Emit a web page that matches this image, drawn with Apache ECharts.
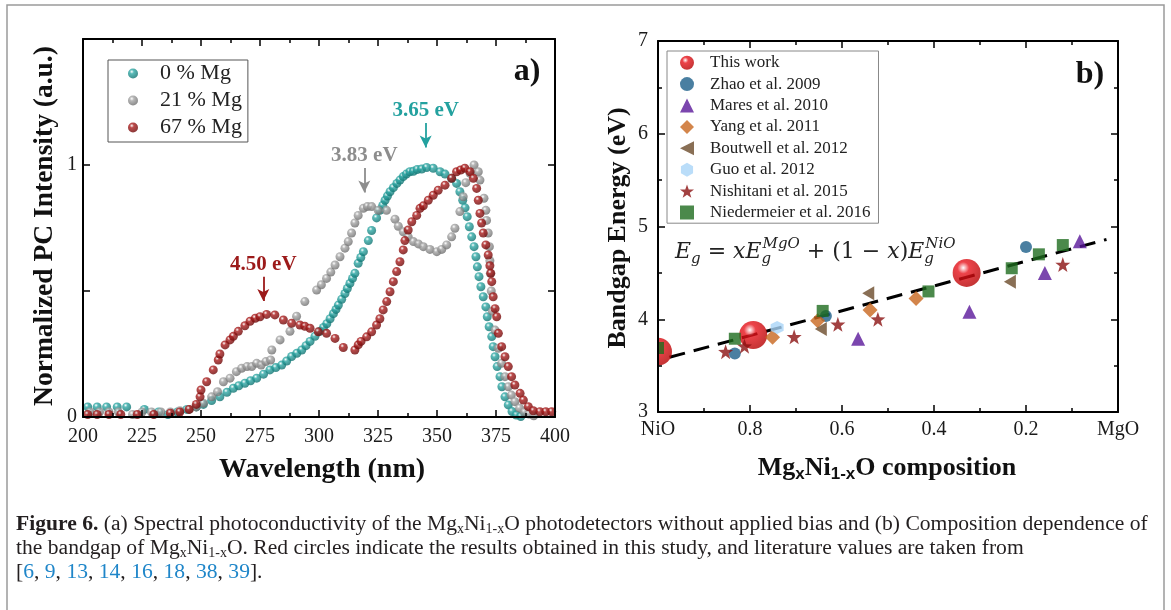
<!DOCTYPE html>
<html>
<head>
<meta charset="utf-8">
<script src="https://cdn.jsdelivr.net/npm/echarts@6/dist/echarts.min.js"></script>
<style>
html, body { margin: 0; padding: 0; background: #fff; }
#main { width: 1171px; height: 610px; }
</style>
</head>
<body>
<div id="main"></div>
<script>
// panel a: normalized photoconductivity, [wavelength (nm), intensity]
var pcNames = ['0 % Mg', '21 % Mg', '67 % Mg'];
var pcMg0 = [
    [202, 0.04], [206, 0.04], [210, 0.04], [214.5, 0.04], [218.5, 0.04], [226, 0.03], [232, 0.02], [236, 0.01],
    [240, 0.02], [244, 0.03], [248, 0.04], [251, 0.05], [254.5, 0.065], [258, 0.08], [261, 0.098], [263.7, 0.114],
    [266, 0.124], [268.6, 0.134], [271, 0.144], [273.6, 0.154], [276.5, 0.17], [279.2, 0.187], [281.7, 0.196],
    [284.2, 0.206], [286.3, 0.222], [288.4, 0.24], [290.6, 0.253], [292.7, 0.266], [294.5, 0.283], [296.2, 0.3],
    [298.3, 0.32], [300.4, 0.34], [301.9, 0.355], [303.3, 0.37], [304.7, 0.39], [306.1, 0.41], [307.2, 0.427],
    [308.2, 0.444], [309.6, 0.467], [311, 0.49], [312, 0.51], [313.1, 0.53], [314.2, 0.55], [315.2, 0.57],
    [316.6, 0.61], [317.7, 0.633], [318.8, 0.656], [320.9, 0.7], [322.3, 0.74], [324.4, 0.79], [325.8, 0.82],
    [327, 0.84], [328, 0.86], [329, 0.877], [330.1, 0.894], [331.5, 0.91], [333, 0.927], [334.3, 0.94],
    [335.7, 0.954], [337, 0.964], [338.5, 0.973], [340, 0.975], [341.6, 0.982], [343.5, 0.984], [345.6, 0.99],
    [348.4, 0.987], [351.3, 0.973], [353.4, 0.964], [356.2, 0.947], [358.3, 0.927], [359.7, 0.894], [360.9, 0.86],
    [361.9, 0.83], [362.8, 0.795], [363.7, 0.755], [364.7, 0.715], [365.7, 0.676], [366.5, 0.636], [367.1, 0.596],
    [367.8, 0.557], [368.6, 0.517], [369.6, 0.477], [370.7, 0.437], [371.3, 0.398], [372.1, 0.358], [373.2, 0.319],
    [373.8, 0.279], [374.6, 0.239], [375.5, 0.2], [376.7, 0.16], [377.5, 0.12], [378.8, 0.08], [380.2, 0.048],
    [381.8, 0.022], [383.6, 0.008], [385.5, 0.002]
];
var pcMg21 = [
    [203, 0.02], [207, 0.02], [211, 0.02], [215, 0.02], [221, 0.01], [225, 0.02], [229, 0.02], [233, 0.02],
    [237, 0.02], [241, 0.025], [245, 0.03], [248, 0.04], [251, 0.055], [254.5, 0.08], [257, 0.1], [259.5, 0.14],
    [262.3, 0.154], [265, 0.18], [267.2, 0.193], [269.5, 0.2], [271.5, 0.2], [273.6, 0.213], [275.5, 0.206],
    [277.5, 0.22], [279.5, 0.226], [280, 0.266], [283.5, 0.306], [287.7, 0.34], [290.5, 0.4], [294, 0.458],
    [299, 0.504], [301, 0.525], [303.2, 0.55], [305, 0.575], [306.8, 0.603], [308.9, 0.636], [311, 0.67],
    [312.4, 0.696], [313.8, 0.73], [315.2, 0.77], [316.6, 0.8], [318.8, 0.828], [320.5, 0.835], [322.3, 0.835],
    [325.1, 0.82], [328.6, 0.82], [332.2, 0.785], [333.6, 0.757], [335.7, 0.735], [337.8, 0.715], [340, 0.696],
    [342.1, 0.687], [344.2, 0.676], [347, 0.665], [349.9, 0.656], [352, 0.665], [354.1, 0.683], [356.2, 0.715],
    [357.6, 0.749], [359.7, 0.815], [361.1, 0.874], [362.2, 0.93], [364, 0.967], [365.7, 1.0], [367.5, 0.973],
    [368.2, 0.94], [369.9, 0.868], [370.7, 0.82], [371, 0.78], [371.7, 0.73], [372.2, 0.676], [372.4, 0.62],
    [372.6, 0.57], [373, 0.5], [373.5, 0.42], [374.6, 0.345], [376, 0.273], [377.4, 0.213], [378.8, 0.16],
    [380.2, 0.12], [381.5, 0.087], [383, 0.061], [385, 0.035], [387, 0.02], [389, 0.012], [391, 0.005]
];
var pcMg67 = [
    [202, 0.01], [206, 0.01], [211, 0.01], [216, 0.01], [223, 0.01], [230, 0.01], [237, 0.015], [241, 0.02],
    [245, 0.03], [248, 0.05], [249.6, 0.08], [250, 0.107], [252.4, 0.14], [255.2, 0.187], [257.3, 0.226],
    [258, 0.25], [260.2, 0.286], [262.3, 0.306], [263.7, 0.32], [265.8, 0.34], [268.6, 0.362], [270.8, 0.38],
    [273, 0.392], [275, 0.398], [277.8, 0.407], [281.3, 0.405], [284.9, 0.385], [288.4, 0.372], [291.9, 0.365],
    [294, 0.36], [296.2, 0.352], [299.7, 0.338], [303.2, 0.332], [306.8, 0.312], [310.3, 0.276], [315.2, 0.266],
    [316.6, 0.286], [317.8, 0.3], [320.2, 0.318], [322.3, 0.338], [324.4, 0.365], [325.8, 0.39], [327.2, 0.425],
    [328.7, 0.458], [330.1, 0.497], [331.5, 0.537], [332.9, 0.577], [334.3, 0.616], [335.7, 0.663], [336.4, 0.7],
    [337.8, 0.742], [339.3, 0.775], [341.4, 0.8], [342.8, 0.828], [344.2, 0.838], [346.3, 0.86], [348.4, 0.88],
    [350.5, 0.9], [353.4, 0.92], [356.2, 0.947], [358.3, 0.973], [360, 0.98], [361.8, 0.987], [364, 0.973],
    [365.4, 0.947], [366.8, 0.907], [367.5, 0.86], [368.2, 0.808], [368.9, 0.77], [369.6, 0.73], [370.7, 0.683],
    [371.7, 0.643], [372.4, 0.6], [372.8, 0.57], [373.2, 0.537], [373.8, 0.477], [374.6, 0.43], [375.3, 0.398],
    [376, 0.332], [377.4, 0.279], [378.8, 0.239], [380.2, 0.2], [381.6, 0.16], [383, 0.127], [385.2, 0.094],
    [386.6, 0.067], [388.7, 0.041], [390.8, 0.025], [393.6, 0.021], [396.1, 0.021], [398.6, 0.021]
];
var pcColors = [['#2fa9a6', '#0b6b69'], ['#a6a6a6', '#666666'], ['#ab1d1d', '#650505']];
// peak arrows: wavelength, arrow top, arrow head (intensity units)
var peakMarks = [
    {text: '3.65 eV', color: '#23a19f', wl: 345.2, from: 1.167, to: 1.069},
    {text: '3.83 eV', color: '#8d8d8d', wl: 319.2, from: 0.988, to: 0.891},
    {text: '4.50 eV', color: '#9c1a1a', wl: 276.4, from: 0.557, to: 0.46}
];

// panel b: bandgap vs Ni fraction (1 - x), [1-x, Eg (eV)]
var gapNames = ['This work', 'Zhao et al. 2009', 'Mares et al. 2010', 'Yang et al. 2011',
    'Boutwell et al. 2012', 'Guo et al. 2012', 'Nishitani et al. 2015', 'Niedermeier et al. 2016'];
var thisWork = [[1.0, 3.65], [0.793, 3.83], [0.329, 4.5]];
var zhao2009 = [[0.833, 3.63], [0.635, 4.035], [0.2, 4.78]];
var mares2010 = [[0.565, 3.79], [0.323, 4.08], [0.159, 4.5], [0.083, 4.84]];
var yang2011 = [[0.751, 3.805], [0.653, 3.985], [0.539, 4.1], [0.439, 4.225]];
var boutwell2012 = [[0.646, 3.895], [0.543, 4.28], [0.235, 4.405]];
var guo2012 = [[0.741, 3.91]];
var nishitani2015 = [[0.853, 3.65], [0.812, 3.71], [0.704, 3.81], [0.609, 3.945], [0.522, 4.0], [0.12, 4.59]];
var niedermeier2016 = [[1.0, 3.69], [0.833, 3.79], [0.642, 4.09], [0.412, 4.3], [0.231, 4.55], [0.172, 4.7], [0.12, 4.8]];
var vegardLine = [[0.975, 3.59], [0.025, 4.86]];

var serif = 'Liberation Serif';
var chart = echarts.init(document.getElementById('main'));

function sphere(c) {
    return {
        type: 'radial', x: 0.38, y: 0.32, r: 0.75,
        colorStops: [{offset: 0, color: '#ffffff'}, {offset: 0.28, color: c[0]}, {offset: 1, color: c[1]}]
    };
}

function frameAxis(grid, pos, min, max, interval, minor, labelFmt, margin) {
    return {
        type: 'value', gridIndex: grid, position: pos, min: min, max: max, interval: interval, z: 60,
        axisLine: {show: true, onZero: false, lineStyle: {color: '#000', width: 2}},
        axisTick: {show: true, inside: true, length: 7, lineStyle: {color: '#000', width: 1.5}},
        minorTick: {show: minor > 1, splitNumber: minor, length: 4, lineStyle: {color: '#000', width: 1.5}},
        splitLine: {show: false},
        minorSplitLine: {show: false},
        axisLabel: {
            show: !!labelFmt, formatter: labelFmt, margin: margin, showMinLabel: true, showMaxLabel: true,
            fontFamily: serif, fontSize: 20, color: '#1a1a1a'
        }
    };
}

var seriesA = pcNames.map(function (name, i) {
    var m = peakMarks[i];
    return {
        name: name, type: 'scatter', xAxisIndex: 0, yAxisIndex: 0,
        data: [pcMg0, pcMg21, pcMg67][i],
        symbolSize: 9,
        itemStyle: {color: sphere(pcColors[i])},
        markLine: {
            silent: true, symbol: ['none', 'arrow'], symbolSize: [9, 12],
            lineStyle: {color: m.color, width: 1.8, type: 'solid'},
            label: {show: true, position: 'start', distance: 2, formatter: m.text, color: m.color,
                fontFamily: serif, fontWeight: 'bold', fontSize: 21},
            data: [[{coord: [m.wl, m.from]}, {coord: [m.wl, m.to]}]]
        }
    };
});

var gapData = [thisWork, zhao2009, mares2010, yang2011, boutwell2012, guo2012, nishitani2015, niedermeier2016];
var gapSymbols = ['circle', 'circle', 'triangle', 'diamond', 'path://M0,5L10,0L10,10Z',
    'path://M5,0L9.33,2.5L9.33,7.5L5,10L0.67,7.5L0.67,2.5Z',
    'path://M10,0L12.35,6.76L19.51,6.91L13.8,11.24L15.88,18.09L10,14L4.12,18.09L6.2,11.24L0.49,6.91L7.65,6.76Z',
    'rect'];
var gapSizes = [28, 12, 14, 15, [12, 14], 13, 15, 12];
var gapColors = [sphere(['#e8141c', '#b00000']), '#1d5f8a', '#5a189a', '#c8661e', '#6b4b2a', '#a9d5f7', '#8b1111', '#1e6b1e'];

var seriesB = gapNames.map(function (name, i) {
    return {
        name: name, type: 'scatter', xAxisIndex: 2, yAxisIndex: 2, z: 3,
        data: gapData[i], symbol: gapSymbols[i], symbolSize: gapSizes[i],
        itemStyle: {color: gapColors[i]}
    };
});
seriesB.push({
    name: 'fit', type: 'line', xAxisIndex: 2, yAxisIndex: 2, z: 2, silent: true,
    data: vegardLine, showSymbol: false, symbol: 'none',
    lineStyle: {color: '#000', width: 3, type: [16, 9]}
});

var capSize = 21.6;
var capBase = {fontFamily: serif, fontSize: capSize, fill: '#231f20'};
var capRich = {
    b: {fontFamily: serif, fontSize: capSize, fontWeight: 'bold', fill: '#231f20'},
    s: {fontFamily: serif, fontSize: 14, padding: [10, 0, 0, 0], fill: '#231f20'},
    l: {fontFamily: serif, fontSize: capSize, fill: '#1f86c9'}
};
function capLine(text, y) {
    return {
        type: 'text', left: 16, top: y,
        style: Object.assign({text: text, rich: capRich}, capBase)
    };
}

var eqFont = 'DejaVu Serif';
var eqRich = {
    m: {fontFamily: eqFont, fontStyle: 'italic', fontSize: 22, fill: '#222'},
    r: {fontFamily: eqFont, fontSize: 22, fill: '#222'},
    g: {fontFamily: eqFont, fontStyle: 'italic', fontSize: 15, padding: [14, 0, 0, 0], fill: '#222'},
    gs: {fontFamily: eqFont, fontStyle: 'italic', fontSize: 15, padding: [14, 0, 0, 0], width: 1, fill: '#222'},
    p: {fontFamily: eqFont, fontStyle: 'italic', fontSize: 15, padding: [0, 0, 16, 0], fill: '#222'}
};

var option = {
    animation: false,
    backgroundColor: '#fff',
    grid: [
        {left: 83, top: 39, width: 472, height: 378, outerBoundsMode: 'none'},
        {left: 658, top: 41, width: 460, height: 371, outerBoundsMode: 'none'}
    ],
    xAxis: [
        frameAxis(0, 'bottom', 200, 400, 25, 2, '{value}', 10),
        frameAxis(0, 'top', 200, 400, 25, 2, null, 8),
        Object.assign(frameAxis(1, 'bottom', 0, 1, 0.2, 2, function (v) {
            if (Math.abs(v - 1) < 1e-6) return 'NiO';
            if (Math.abs(v) < 1e-6) return 'MgO';
            return v.toFixed(1);
        }, 8), {inverse: true}),
        Object.assign(frameAxis(1, 'top', 0, 1, 0.2, 2, null, 8), {inverse: true})
    ],
    yAxis: [
        frameAxis(0, 'left', 0, 1.5, 0.5, 0, function (v) {
            return (v === 0 || v === 1) ? String(v) : '';
        }, 6),
        frameAxis(0, 'right', 0, 1.5, 0.5, 0, null, 6),
        frameAxis(1, 'left', 3, 7, 1, 2, '{value}', 10),
        frameAxis(1, 'right', 3, 7, 1, 2, null, 6)
    ],
    legend: [
        {
            data: pcNames.map(function (n) { return {name: n, icon: 'circle'}; }),
            orient: 'vertical', left: 108, top: 60, padding: [0, 6, 1, 20], itemGap: 0,
            itemWidth: 10, itemHeight: 10, selectedMode: false,
            borderColor: '#555', borderWidth: 1, backgroundColor: '#fff',
            textStyle: {fontFamily: serif, fontSize: 22, lineHeight: 27, color: '#222', padding: [0, 0, 0, 17]}
        },
        {
            data: gapNames.map(function (n, i) { return {name: n, icon: gapSymbols[i]}; }),
            orient: 'vertical', left: 667, top: 51, padding: [1, 8, 0, 13], itemGap: 0,
            itemWidth: 14, itemHeight: 14, selectedMode: false,
            borderColor: '#888', borderWidth: 1, backgroundColor: '#fff',
            textStyle: {fontFamily: serif, fontSize: 17, lineHeight: 21.4, color: '#222', padding: [0, 0, 0, 11]}
        }
    ],
    series: seriesA.concat(seriesB),
    graphic: [
        {type: 'rect', shape: {x: 7, y: 5, width: 1157, height: 620}, style: {fill: 'none', stroke: '#9a9a9a', lineWidth: 1.5}, silent: true},
        // hide the part of edge markers that lies left of panel b's frame
        {type: 'rect', z: 50, shape: {x: 628, y: 330, width: 29, height: 50}, style: {fill: '#fff'}, silent: true},
        {type: 'text', x: 527, y: 72, style: {text: 'a)', fontFamily: serif, fontWeight: 'bold', fontSize: 32, fill: '#111', align: 'center', verticalAlign: 'middle'}},
        {type: 'text', x: 1090, y: 75, style: {text: 'b)', fontFamily: serif, fontWeight: 'bold', fontSize: 32, fill: '#111', align: 'center', verticalAlign: 'middle'}},
        {type: 'text', x: 322, y: 470, style: {text: 'Wavelength (nm)', fontFamily: serif, fontWeight: 'bold', fontSize: 28, fill: '#111', align: 'center', verticalAlign: 'middle'}},
        {type: 'text', x: 45, y: 226, rotation: Math.PI / 2, style: {text: 'Normalized PC Intensity (a.u.)', fontFamily: serif, fontWeight: 'bold', fontSize: 27.5, fill: '#111', align: 'center', verticalAlign: 'middle'}},
        {type: 'text', x: 618, y: 228, rotation: Math.PI / 2, style: {text: 'Bandgap Energy (eV)', fontFamily: serif, fontWeight: 'bold', fontSize: 26, fill: '#111', align: 'center', verticalAlign: 'middle'}},
        {type: 'text', x: 887, y: 468, style: {
            text: 'Mg{s|x}Ni{s|1-x}O composition', fontFamily: serif, fontWeight: 'bold', fontSize: 26, fill: '#111',
            align: 'center', verticalAlign: 'middle',
            rich: {s: {fontFamily: 'Liberation Sans', fontWeight: 'bold', fontSize: 17, padding: [12, 0, 0, 0], fill: '#111'}}
        }},
        {type: 'text', x: 675, y: 252, style: {
            text: '{m|E}{g|g}{r| = }{m|xE}{gs|g}{p|MgO}{r| + (1 − }{m|x}{r|)}{m|E}{gs|g}{p|NiO}',
            rich: eqRich, align: 'left', verticalAlign: 'middle', fill: '#222'
        }},
        capLine('{b|Figure 6.} (a) Spectral photoconductivity of the Mg{s|x}Ni{s|1-x}O photodetectors without applied bias and (b) Composition dependence of', 513),
        capLine('the bandgap of Mg{s|x}Ni{s|1-x}O. Red circles indicate the results obtained in this study, and literature values are taken from', 537),
        capLine('[{l|6}, {l|9}, {l|13}, {l|14}, {l|16}, {l|18}, {l|38}, {l|39}].', 561)
    ]
};
chart.setOption(option);
</script>
</body>
</html>
